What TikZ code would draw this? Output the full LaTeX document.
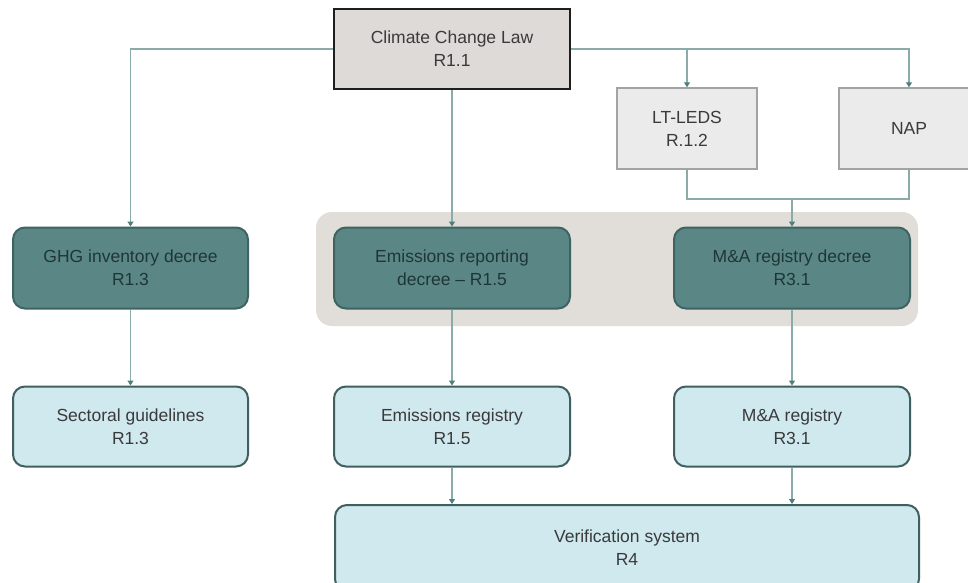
\documentclass[tikz,border=0pt]{standalone}
\usepackage{fontspec}
\setmainfont{Liberation Sans}
\usetikzlibrary{arrows.meta}

\definecolor{lawfill}{HTML}{DEDAD7}
\definecolor{lawdraw}{HTML}{1E1E1E}
\definecolor{planfill}{HTML}{EBEBEB}
\definecolor{plandraw}{HTML}{A3A3A3}
\definecolor{groupfill}{HTML}{E1DDD9}
\definecolor{decreefill}{HTML}{5A8785}
\definecolor{decreedraw}{HTML}{3E6462}
\definecolor{decreetext}{HTML}{1E3636}
\definecolor{regfill}{HTML}{CFE9EF}
\definecolor{regdraw}{HTML}{3F605F}
\definecolor{bodytext}{HTML}{3A3A3A}
\definecolor{linkcol}{HTML}{8AABA8}
\definecolor{tipcol}{HTML}{4F7E7C}

\tikzset{
  basebox/.style={align=center, inner sep=0pt,
    font=\fontsize{17.5}{23}\selectfont},
  lawbox/.style={basebox, fill=lawfill, draw=lawdraw, line width=2.5pt,
    text=bodytext, minimum width=236pt, minimum height=80pt},
  planbox/.style={basebox, fill=planfill, draw=plandraw, line width=1.5pt,
    text=bodytext, minimum width=140pt, minimum height=81pt},
  decreebox/.style={basebox, fill=decreefill, draw=decreedraw, line width=2pt,
    rounded corners=12pt, text=decreetext, minimum width=235pt, minimum height=81pt},
  regbox/.style={basebox, fill=regfill, draw=regdraw, line width=2pt,
    rounded corners=12pt, text=bodytext, minimum width=235pt, minimum height=80pt},
  link/.style={draw=linkcol, line width=1.3pt},
  conn/.style={link, -{Triangle[width=6pt,length=5pt,color=tipcol]}},
}

\begin{document}
\begin{tikzpicture}[x=1pt,y=-1pt]
\useasboundingbox (0,0) rectangle (968,582);
\clip (0,0) rectangle (968,582);
\fill[white] (0,0) rectangle (968,582);

% shaded group behind the two decrees
\fill[groupfill, rounded corners=16pt] (316,212) rectangle (918,326);

% law and plans
\node[lawbox] (law) at (452,49) {Climate Change Law\\R1.1};
\node[planbox] (leds) at (687,128.5) {LT-LEDS\\R.1.2};
\node[planbox] (nap) at (909,128.5) {NAP};

% decrees
\node[decreebox] (ghg) at (130.5,268) {GHG inventory decree\\R1.3};
\node[decreebox, minimum width=236pt] (erd) at (452,268) {Emissions reporting\\decree -- R1.5};
\node[decreebox, minimum width=236pt] (mad) at (792,268) {M\&A registry decree\\R3.1};

% registries
\node[regbox] (sect) at (130.5,426.5) {Sectoral guidelines\\R1.3};
\node[regbox, minimum width=236pt] (ereg) at (452,426.5) {Emissions registry\\R1.5};
\node[regbox, minimum width=236pt] (mreg) at (792,426.5) {M\&A registry\\R3.1};
\node[regbox, minimum width=584pt, minimum height=86pt] (ver) at (627,548) {Verification system\\R4};

% connectors
\draw[conn] (law.west) -| (ghg.north);
\draw[conn] (law.south) -- (erd.north);
\draw[conn] (law.east) -| (leds.north);
\draw[conn] (law.east) -| (nap.north);

\coordinate (jy) at (0,199);
\coordinate (join) at (mad.north |- jy);
\draw[link] (leds.south) |- (join);
\draw[link] (nap.south) |- (join);
\draw[conn] (join) -- (mad.north);

\draw[conn] (ghg.south) -- (sect.north);
\draw[conn] (erd.south) -- (ereg.north);
\draw[conn] (mad.south) -- (mreg.north);
\draw[conn] (ereg.south) -- (ereg.south |- ver.north);
\draw[conn] (mreg.south) -- (mreg.south |- ver.north);
\end{tikzpicture}
\end{document}
